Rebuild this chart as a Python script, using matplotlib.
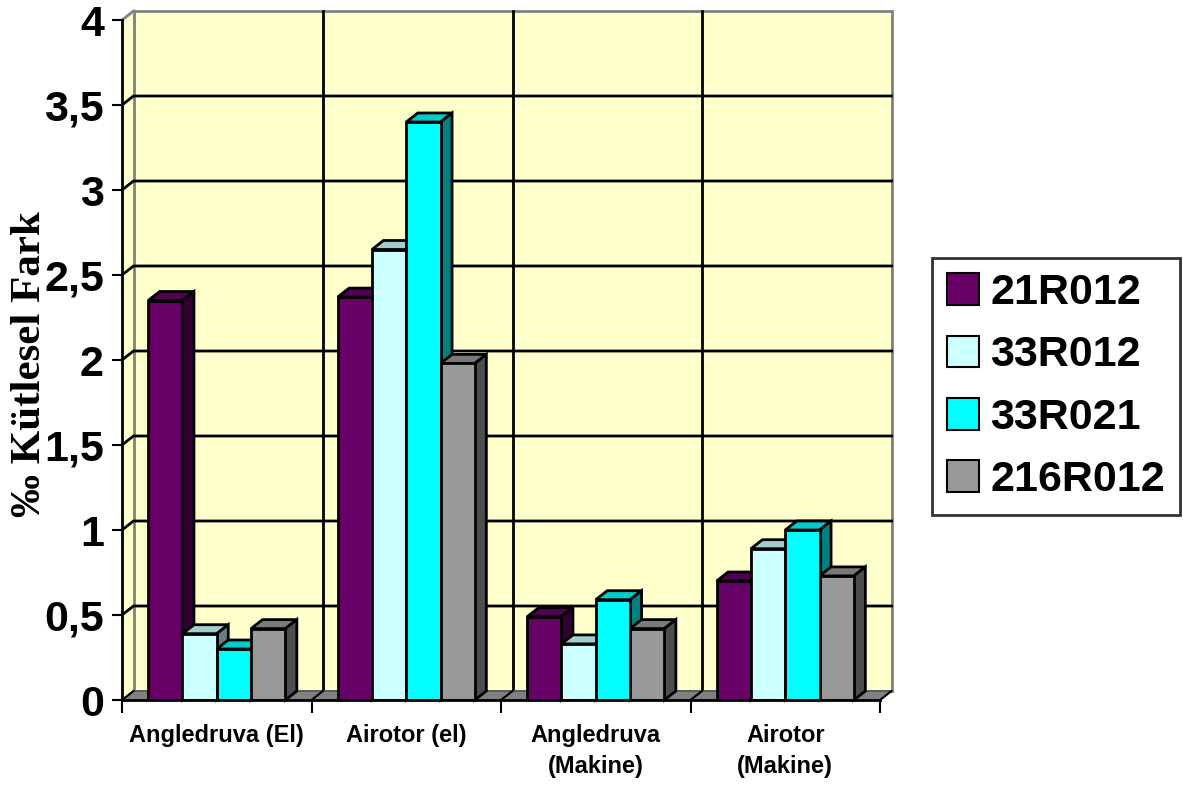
import numpy as np
import matplotlib
matplotlib.use("Agg")
import matplotlib.pyplot as plt
from matplotlib.patches import Polygon, Patch

# data
categories = ["Angledruva (El)", "Airotor (el)", "Angledruva\n(Makine)", "Airotor\n(Makine)"]
series = ["21R012", "33R012", "33R021", "216R012"]
v_21r012 = [2.35, 2.37, 0.49, 0.70]
v_33r012 = [0.39, 2.65, 0.33, 0.89]
v_33r021 = [0.30, 3.40, 0.59, 1.00]
v_216r012 = [0.42, 1.98, 0.42, 0.73]
y_ticks = [0, 0.5, 1, 1.5, 2, 2.5, 3, 3.5, 4]
y_labels = ["0", "0,5", "1", "1,5", "2", "2,5", "3", "3,5", "4"]
y_title = "‰ Kütlesel Fark"

values = [v_21r012, v_33r012, v_33r021, v_216r012]
colors = ["#660066", "#CCFFFF", "#00FFFF", "#999999"]

SANS = "Liberation Sans"
SERIF = "Liberation Serif"
WALL = "#FFFFCC"
DEPTH_PX = (11.5, 9.0)   # 3d offset of the back plane, in pixels
BAR_W = 0.181


def shade(hex_color, k):
    r, g, b = matplotlib.colors.to_rgb(hex_color)
    return (r * k, g * k, b * k)


fig = plt.figure(figsize=(11.83, 7.87), dpi=100)
ax = fig.add_axes([122 / 1183, 87 / 787, 758 / 1183, 680 / 787])
ax.set_xlim(0, 4)
ax.set_ylim(0, 4)

n_cat = len(categories)
dx = DEPTH_PX[0] / (ax.bbox.width / 4)
dy = DEPTH_PX[1] / (ax.bbox.height / 4)

# walls and floor
ax.add_patch(Polygon([(0, 0), (dx, dy), (dx, 4 + dy), (0, 4)], closed=True,
                     facecolor=WALL, edgecolor="none", zorder=0, clip_on=False))
ax.add_patch(Polygon([(dx, dy), (n_cat + dx, dy), (n_cat + dx, 4 + dy), (dx, 4 + dy)],
                     closed=True, facecolor=WALL, edgecolor="#808080", lw=2,
                     zorder=0, clip_on=False))
ax.plot([0, dx], [4, 4 + dy], color="#808080", lw=2, zorder=0.5, clip_on=False)
for v in y_ticks[1:-1]:
    ax.plot([0, dx, n_cat + dx], [v, v + dy, v + dy], color="black", lw=2,
            zorder=1, clip_on=False)
for k in range(1, n_cat):
    ax.plot([k + dx, k + dx], [dy, 4 + dy], color="black", lw=2, zorder=1, clip_on=False)

ax.add_patch(Polygon([(0, 0), (n_cat, 0), (n_cat + dx, dy), (dx, dy)], closed=True,
                     facecolor="#808080", edgecolor="#555555", lw=1.2,
                     zorder=1.5, clip_on=False))
for k in range(n_cat + 1):
    ax.plot([k, k + dx], [0, dy], color="black", lw=1.5, zorder=1.6, clip_on=False)

# 3d-looking bars
x = np.arange(n_cat) + 0.5
for j, (vals, col) in enumerate(zip(values, colors)):
    xs = x + (j - 1.5) * BAR_W
    bars = ax.bar(xs, vals, width=BAR_W, color=col, edgecolor="black", lw=2,
                  zorder=3, label=series[j])
    for b in bars:
        x0, x1, h = b.get_x(), b.get_x() + b.get_width(), b.get_height()
        ax.add_patch(Polygon([(x0, h), (x1, h), (x1 + dx, h + dy), (x0 + dx, h + dy)],
                             closed=True, facecolor=shade(col, 0.8),
                             edgecolor="black", lw=2, zorder=2, clip_on=False))
        ax.add_patch(Polygon([(x1, 0), (x1 + dx, dy), (x1 + dx, h + dy), (x1, h)],
                             closed=True, facecolor=shade(col, 0.5),
                             edgecolor="black", lw=2, zorder=2, clip_on=False))

# axes
for s in ("top", "right"):
    ax.spines[s].set_visible(False)
for s in ("left", "bottom"):
    ax.spines[s].set_linewidth(2)
    ax.spines[s].set_zorder(4)
ax.set_facecolor("none")

ax.set_yticks(y_ticks)
ax.set_yticklabels(y_labels, fontfamily=SANS, fontweight="bold", fontsize=31)
ax.tick_params(axis="y", direction="out", length=7, width=1.5, pad=6)

ax.set_xticks(np.arange(n_cat + 1))
ax.set_xticklabels([])
ax.tick_params(axis="x", which="major", direction="out", length=9, width=1.5)
ax.set_xticks(x, minor=True)
ax.set_xticklabels(categories, minor=True, fontfamily=SANS, fontweight="bold",
                   fontsize=17, linespacing=1.45)
ax.tick_params(axis="x", which="minor", length=0, pad=17)

ax.set_ylabel(y_title, fontfamily=SERIF, fontweight="bold", fontsize=31)
ax.yaxis.label.set_verticalalignment("center")
ax.yaxis.set_label_coords(-0.122, 0.494)

handles = [Patch(facecolor=c, edgecolor="black", lw=1.5) for c in colors]
leg = fig.legend(handles, series, loc="upper left",
                 bbox_to_anchor=(932 / 1183, 1 - 258 / 787),
                 prop={"family": SANS, "weight": "bold", "size": 31},
                 frameon=True, fancybox=False, shadow=False, borderpad=0.35,
                 handlelength=0.75, handleheight=0.75, handletextpad=0.25,
                 labelspacing=0.52, borderaxespad=0)
leg.get_frame().set_edgecolor("black")
leg.get_frame().set_linewidth(2)

fig.savefig("out.png", dpi=100)
